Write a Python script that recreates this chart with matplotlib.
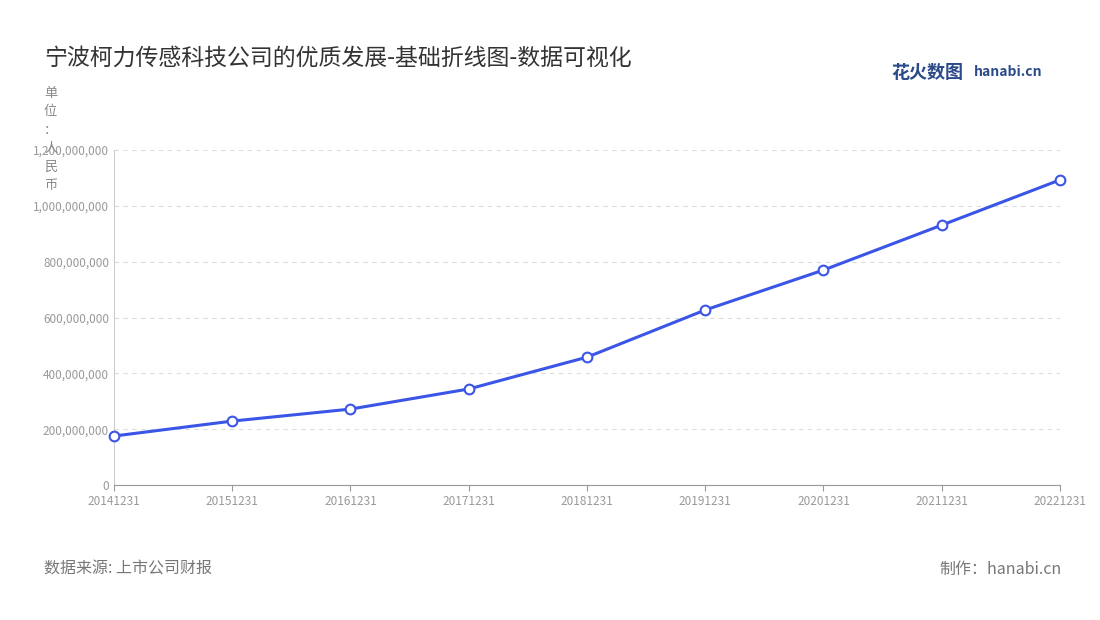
import matplotlib
matplotlib.use("Agg")
import matplotlib.pyplot as plt
from matplotlib.ticker import FuncFormatter

plt.rcParams['font.family'] = ['Noto Sans CJK SC', 'DejaVu Sans']

years = ["20141231","20151231","20161231","20171231","20181231","20191231","20201231","20211231","20221231"]
values = [1.755e8, 2.29e8, 2.72e8, 3.44e8, 4.58e8, 6.27e8, 7.70e8, 9.31e8, 1.093e9]
yticks = [0, 2e8, 4e8, 6e8, 8e8, 1e9, 1.2e9]

fig = plt.figure(figsize=(11, 6.2), dpi=100)
ax = fig.add_axes([0.1036, 0.2177, 0.86, 0.5403])
x = list(range(len(years)))
ax.plot(x, values, color='#3b55e6', lw=2.2, marker='o', ms=7,
        mfc='white', mec='#3b55e6', mew=1.5, zorder=3, clip_on=False)
ax.set_xlim(0, len(years) - 1)
ax.set_ylim(0, 1.2e9)
ax.set_xticks(x)
ax.set_xticklabels(years)
ax.set_yticks(yticks)
ax.yaxis.set_major_formatter(FuncFormatter(lambda v, p: f"{int(v):,}"))
ax.tick_params(axis='both', labelsize=8.5, colors='#999999', length=4)
ax.tick_params(axis='y', length=0)
ax.grid(axis='y', ls=(0, (4, 4)), color='#dddddd', lw=0.8)
for s in ['top', 'right']:
    ax.spines[s].set_visible(False)
ax.spines['left'].set_color('#cccccc')
ax.spines['bottom'].set_color('#999999')

fig.text(0.04, 0.895, "宁波柯力传感科技公司的优质发展-基础折线图-数据可视化", fontsize=16.5, color='#333333')
fig.text(0.046, 0.86, "单\n位\n：\n人\n民\n币", fontsize=9.5, color='#888888', va='top', ha='center', linespacing=1.55)
fig.text(0.04, 0.075, "数据来源: 上市公司财报", fontsize=11.5, color='#777777')
fig.text(0.965, 0.075, "制作：hanabi.cn", fontsize=11.5, color='#777777', ha='right')
fig.text(0.81, 0.875, "花火数图", fontsize=13, color='#2a4a8a', fontweight='bold')
fig.text(0.885, 0.877, "hanabi.cn", fontsize=10, color='#2a4a8a', fontweight='bold')
fig.savefig("out.png", dpi=100, facecolor='white')
